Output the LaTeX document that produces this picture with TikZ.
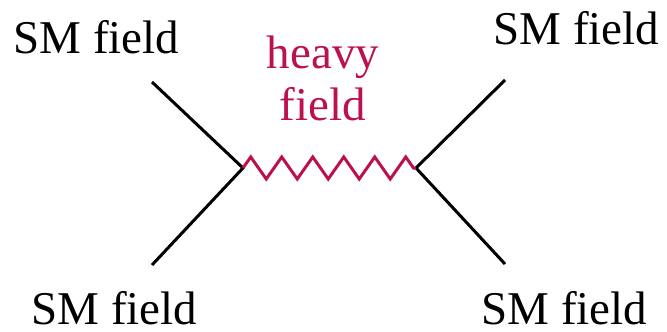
\documentclass[tikz,border=0pt]{standalone}
\usepackage{fontspec}
\setmainfont{Liberation Serif}
\usetikzlibrary{decorations.pathmorphing}
\definecolor{heavyred}{RGB}{188,16,80}

\begin{document}
\begin{tikzpicture}[
  x=1pt, y=-1pt,
  lbl/.style={inner sep=0pt, anchor=base, align=center,
    font=\fontsize{47}{52}\selectfont},
  leg/.style={line width=3pt},
  heavy/.style={line width=3pt, heavyred, decorate,
    decoration={zigzag, segment length=31pt, amplitude=11pt}},
]
  \useasboundingbox (0,0) rectangle (667,332);
  % vertices
  \coordinate (vl) at (243,168);
  \coordinate (vr) at (416,168);
  % outer ends of the legs
  \coordinate (tl) at (152,82);
  \coordinate (bl) at (152,265);
  \coordinate (tr) at (505,80);
  \coordinate (br) at (505,264);
  % labels
  \node[lbl] (smtl) at (96.5,53) {SM field};
  \node[lbl] (smbl) at (114.5,324) {SM field};
  \node[lbl] (smtr) at (576.5,45) {SM field};
  \node[lbl] (smbr) at (564.5,324) {SM field};
  \node[lbl, text=heavyred] (hf) at (323,120) {heavy\\field};
  % legs and propagator
  \draw[leg] (tl) -- (vl) -- (bl);
  \draw[leg] (tr) -- (vr) -- (br);
  \draw[heavy] (vl) -- (vr);
\end{tikzpicture}
\end{document}
